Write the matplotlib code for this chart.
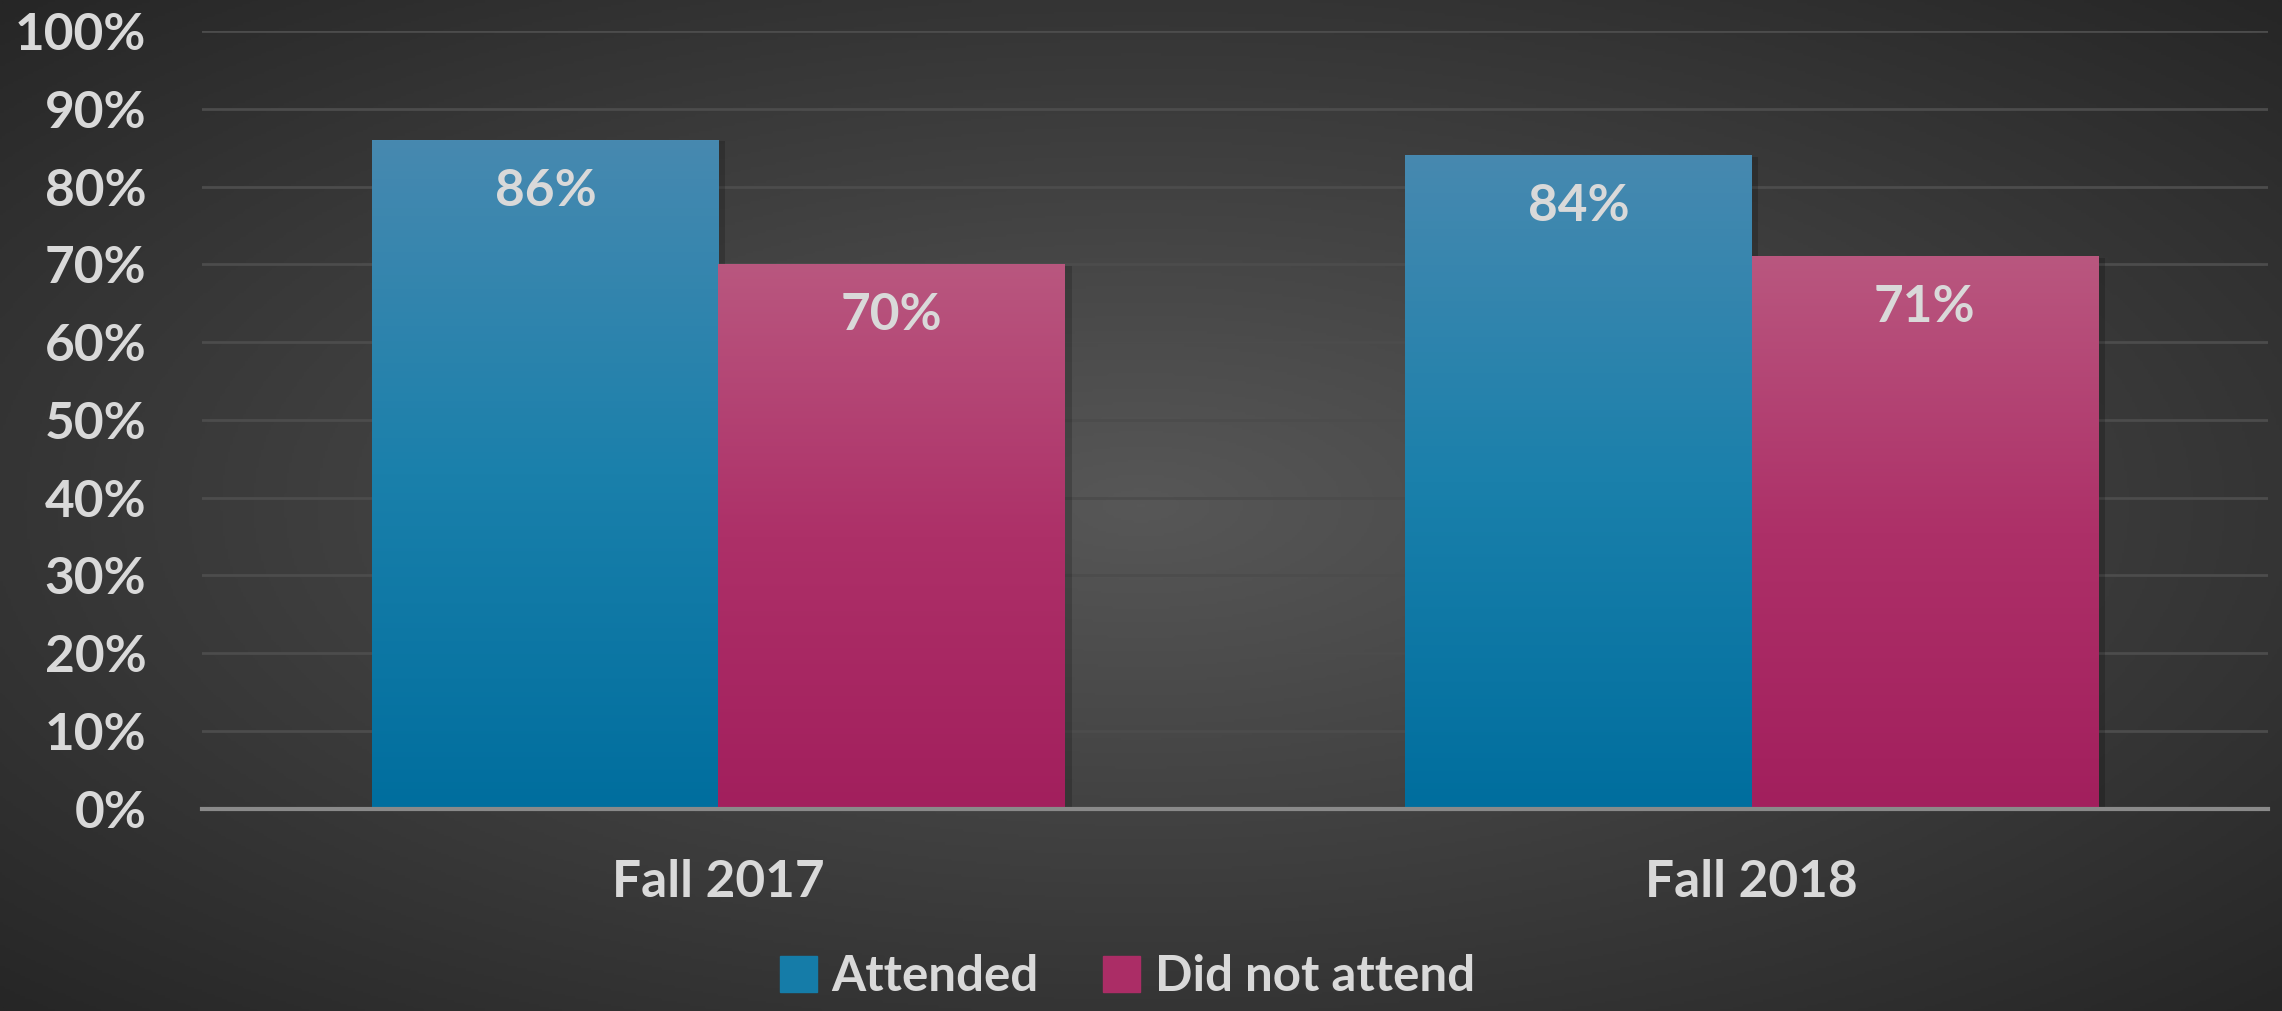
import numpy as np
import matplotlib.pyplot as plt
from matplotlib import patheffects as pe
from matplotlib.colors import LinearSegmentedColormap

terms = ["Fall 2017", "Fall 2018"]
attended = [86, 84]
not_attended = [70, 71]
series_names = ["Attended", "Did not attend"]

txt = "#d9d9d9"
plt.rcParams["font.family"] = ["Lato", "DejaVu Sans"]
plt.rcParams["font.weight"] = "bold"

fig = plt.figure(figsize=(22.82, 10.11), dpi=100)

# radial background
bg = fig.add_axes([0, 0, 1, 1], zorder=-10)
yy, xx = np.mgrid[-1:1:400j, -1:1:900j]
r = np.sqrt(xx**2 + yy**2) / np.sqrt(2)
bg_cmap = LinearSegmentedColormap.from_list("bg", ["#575757", "#262626"])
bg.imshow(r, cmap=bg_cmap, aspect="auto", extent=[0, 1, 0, 1], vmin=0, vmax=1)
bg.axis("off")

ax = fig.add_axes([0.0885, 0.2, 0.9054, 0.7693])
ax.set_facecolor("none")

blue_cm = LinearSegmentedColormap.from_list("b", ["#006e9e", "#1a80ab", "#4789b0"])
pink_cm = LinearSegmentedColormap.from_list("p", ["#a21f5d", "#ad3068", "#b9577f"])

x = np.arange(len(terms))
w = 0.335
grad = np.linspace(0, 1, 256).reshape(-1, 1)

for vals, off, cm in [(attended, -w / 2, blue_cm), (not_attended, w / 2, pink_cm)]:
    bars = ax.bar(x + off, vals, width=w, color=cm(0.5), zorder=2,
                  path_effects=[pe.SimplePatchShadow(offset=(5, -1), alpha=0.18, shadow_rgbFace="black"), pe.Normal()])
    for b, v in zip(bars, vals):
        x0 = b.get_x()
        ax.imshow(grad, cmap=cm, origin="lower", aspect="auto", zorder=3,
                  extent=[x0, x0 + b.get_width(), 0, b.get_height()])
        ax.annotate(f"{v}%", (b.get_x() + b.get_width() / 2, v), xytext=(0, -37),
                    textcoords="offset points", ha="center", va="center",
                    fontsize=37, color=txt, fontweight="bold", zorder=5)

ax.set_xlim(-0.5, 1.5)
ax.set_ylim(0, 100)
ax.set_yticks(range(0, 101, 10))
ax.set_yticklabels([f"{t}%" for t in range(0, 101, 10)])
ax.set_xticks(x)
ax.set_xticklabels(terms)
ax.tick_params(axis="both", length=0, labelsize=37, labelcolor=txt)
ax.tick_params(axis="y", pad=40)
ax.tick_params(axis="x", pad=36)
ax.grid(axis="y", color="#4c4c4c", linewidth=2, zorder=0)
ax.set_axisbelow(True)
for s in ["top", "right", "left"]:
    ax.spines[s].set_visible(False)
ax.spines["bottom"].set_color("#8a8a8a")
ax.spines["bottom"].set_linewidth(3)
ax.spines["bottom"].set_zorder(4)

handles = [plt.Rectangle((0, 0), 1, 1, color=blue_cm(0.4)),
           plt.Rectangle((0, 0), 1, 1, color=pink_cm(0.4))]
fig.legend(handles, series_names, loc="lower center", bbox_to_anchor=(0.494, -0.032),
           ncol=2, frameon=False, fontsize=35.5, labelcolor=txt,
           handlelength=0.75, handleheight=0.75, handletextpad=0.3, columnspacing=1.3)

fig.savefig("out.png", dpi=100)
